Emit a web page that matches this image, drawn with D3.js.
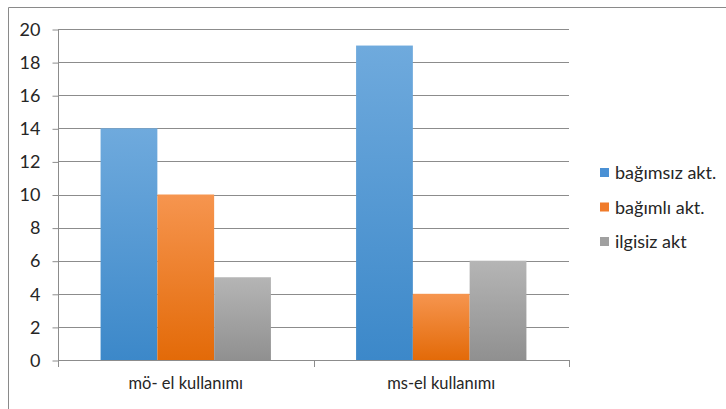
<!DOCTYPE html>
<html><head><meta charset="utf-8">
<script src="https://cdn.jsdelivr.net/npm/d3@7"></script>
<style>body{margin:0;background:#fff}svg{display:block}text{font-family:Lato,"Open Sans",sans-serif;fill:#262626}</style>
</head><body><svg id="c" width="726" height="409"></svg>
<script>
const categories = ["mö- el kullanımı", "ms-el kullanımı"];
const seriesNames = ["bağımsız akt.", "bağımlı akt.", "ilgisiz akt"];
const bagimsiz = [14, 19];
const bagimli = [10, 4];
const ilgisiz = [5, 6];
const yTicks = [0, 2, 4, 6, 8, 10, 12, 14, 16, 18, 20];

const seriesValues = [bagimsiz, bagimli, ilgisiz];
const gradients = [["#6faadd", "#3c88c9"], ["#f6954f", "#e36a08"], ["#b5b5b5", "#909090"]];
const legendColors = ["#4a90d4", "#f07b2a", "#a0a0a0"];
const FS = 18;

const svg = d3.select("#c");
const pLeft = 58, pRight = 569, pTop = 29, pBottom = 360;

// outer border
svg.append("path").attr("d", "M8.5,409 V7.5 H726").attr("fill", "none").attr("stroke", "#8a8a8a").attr("stroke-width", 1);

const defs = svg.append("defs");
gradients.forEach((g, i) => {
  const lg = defs.append("linearGradient").attr("id", "g" + i).attr("x1", 0).attr("y1", 0).attr("x2", 0).attr("y2", 1);
  lg.append("stop").attr("offset", 0).attr("stop-color", g[0]);
  lg.append("stop").attr("offset", 1).attr("stop-color", g[1]);
});

const y = d3.scaleLinear().domain([0, 20]).range([pBottom, pTop]);
const x0 = d3.scaleBand().domain(categories).range([pLeft, pRight]).paddingInner(0).paddingOuter(0);
const x1 = d3.scaleBand().domain(d3.range(seriesNames.length)).range([0, x0.bandwidth()]).paddingInner(0).paddingOuter(0.75);

// gridlines
svg.append("g").selectAll("line").data(yTicks.filter(t => t > 0)).join("line")
  .attr("x1", pLeft).attr("x2", pRight)
  .attr("y1", d => Math.round(y(d)) + 0.5).attr("y2", d => Math.round(y(d)) + 0.5)
  .attr("stroke", "#8c8c8c").attr("stroke-width", 1);

// y axis
const yAxis = svg.append("g").attr("transform", `translate(${pLeft + 0.5},0.5)`)
  .call(d3.axisLeft(y).tickValues(yTicks).tickSize(6).tickPadding(12));
yAxis.select(".domain").attr("stroke", "#8c8c8c").attr("d", `M0,${y(0)}V${y(20)}`);
yAxis.selectAll(".tick line").attr("stroke", "#8c8c8c");
yAxis.selectAll(".tick text").attr("font-size", FS).style("font-family", "Lato,'Open Sans',sans-serif").attr("fill", "#262626");

// bars
const groups = svg.append("g").selectAll("g").data(categories).join("g")
  .attr("transform", d => `translate(${x0(d)},0)`);
groups.selectAll("rect").data((d, ci) => seriesValues.map((s, si) => ({ si, v: s[ci] }))).join("rect")
  .attr("x", d => x1(d.si)).attr("width", x1.bandwidth())
  .attr("y", d => y(d.v)).attr("height", d => y(0) - y(d.v))
  .attr("fill", d => `url(#g${d.si})`);

// x axis
const xAxis = svg.append("g").attr("transform", `translate(0,${Math.round(y(0)) + 0.5})`)
  .call(d3.axisBottom(x0).tickSize(0).tickPadding(17));
xAxis.select(".domain").attr("stroke", "#8c8c8c").attr("d", `M${pLeft + 0.5},0H${pRight + 0.5}`);
xAxis.selectAll(".tick text").attr("font-size", 16.5).style("font-family", "Lato,'Open Sans',sans-serif").attr("fill", "#262626");
[pLeft, (pLeft + pRight) / 2, pRight].forEach(px => {
  svg.append("line").attr("x1", Math.round(px) + 0.5).attr("x2", Math.round(px) + 0.5)
    .attr("y1", Math.round(y(0))).attr("y2", Math.round(y(0)) + 7).attr("stroke", "#8c8c8c");
});

// legend
const leg = svg.append("g").attr("transform", "translate(600,172)");
const li = leg.selectAll("g").data(seriesNames).join("g").attr("transform", (d, i) => `translate(0,${i * 34.5})`);
li.append("rect").attr("x", 0).attr("y", -4).attr("width", 9).attr("height", 9).attr("fill", (d, i) => legendColors[i]);
li.append("text").attr("x", 15).attr("y", 1).attr("dy", "0.35em").attr("font-size", FS).text(d => d);
</script></body></html>
